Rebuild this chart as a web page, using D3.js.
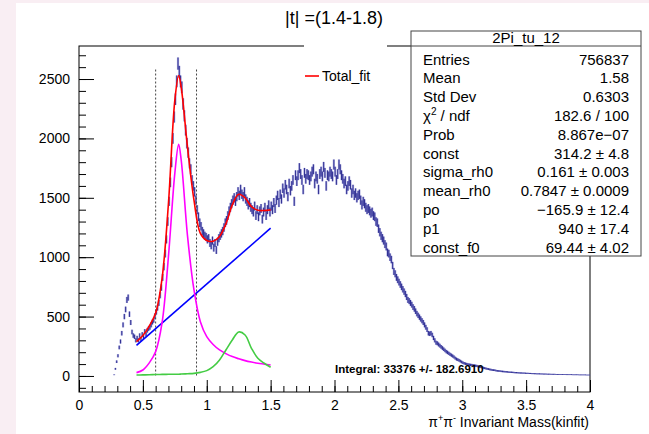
<!DOCTYPE html>
<html>
<head>
<meta charset="utf-8">
<script src="https://cdn.jsdelivr.net/npm/d3@7"></script>
<style>
body { margin: 0; background: #f9eef3; }
svg { display: block; font-family: "Liberation Sans", Arial, sans-serif; }
</style>
</head>
<body>
<script>
// histogram: 0.01 wide bins, first bin edge at 0.27
let binStart = 0.27, binWidth = 0.01;
let counts = [
  10, 60, 120, 170, 240, 290, 360, 430, 500, 560,                 // 0.27
  640, 660, 520, 450, 370, 340, 330, 300, 320, 300,               // 0.37
  340, 310, 350, 330, 375, 350, 385, 400, 410, 430,               // 0.47
  455, 470, 505, 540, 575, 615, 680, 745, 830, 920,               // 0.57
  1030, 1150, 1300, 1470, 1630, 1800, 2000, 2180, 2330, 2480,     // 0.67
  2630, 2560, 2480, 2430, 2290, 2190, 2070, 1960, 1880, 1790,     // 0.77
  1740, 1650, 1600, 1550, 1480, 1400, 1340, 1290, 1260, 1220,     // 0.87
  1200, 1180, 1170, 1150, 1160, 1120, 1100, 1140, 1080, 1120,     // 0.97
  1060, 1130, 1160, 1180, 1200, 1220, 1250, 1290, 1310, 1350,     // 1.07
  1390, 1420, 1450, 1480, 1500, 1470, 1510, 1550, 1520, 1570,     // 1.17
  1530, 1510, 1550, 1490, 1470, 1440, 1460, 1420, 1400, 1380,     // 1.27
  1430, 1350, 1400, 1340, 1390, 1410, 1320, 1380, 1420, 1350,     // 1.37
  1400, 1440, 1380, 1430, 1400, 1460, 1410, 1480, 1520, 1460,     // 1.47
  1530, 1490, 1580, 1540, 1610, 1570, 1510, 1620, 1560, 1600,     // 1.57
  1650, 1470, 1690, 1640, 1690, 1750, 1700, 1650, 1570, 1710,     // 1.67
  1660, 1700, 1690, 1650, 1680, 1720, 1740, 1620, 1680, 1660,     // 1.77
  1570, 1700, 1720, 1680, 1760, 1710, 1600, 1690, 1680, 1720,     // 1.87
  1700, 1680, 1780, 1720, 1650, 1700, 1780, 1740, 1690, 1660,     // 1.97
  1620, 1640, 1570, 1600, 1640, 1610, 1540, 1570, 1520, 1540,     // 2.07
  1500, 1520, 1530, 1480, 1440, 1470, 1450, 1420, 1400, 1410,     // 2.17
  1390, 1370, 1380, 1350, 1340, 1300, 1290, 1240, 1210, 1180,     // 2.27
  1160, 1140, 1110, 1090, 1040, 1030, 1000, 980, 930, 880,        // 2.37
  860, 830, 810, 790, 770, 750, 730, 710, 690, 665,               // 2.47
  640, 630, 615, 600, 580, 565, 545, 525, 510, 495,               // 2.57
  480, 465, 450, 430, 410, 390, 360, 355, 360, 345,               // 2.67
  320, 300, 280, 275, 265, 255, 245, 235, 225, 215,               // 2.77
  205, 198, 190, 182, 175, 168, 160, 150, 142, 137,               // 2.87
  132, 125, 118, 112, 107, 103, 100, 97, 95, 93,                  // 2.97
  92, 90, 88, 86, 84, 81, 78, 75, 72, 69,                         // 3.07
  66, 63, 60, 58, 55, 53, 50, 49, 48, 45,                         // 3.17
  43, 42, 41, 39, 38, 37, 36, 35, 34, 32,                         // 3.27
  31, 31, 30, 29, 28, 28, 27, 26, 25, 25,                         // 3.37
  24, 24, 23, 22, 22, 21, 21, 20, 20, 19,                         // 3.47
  19, 18, 18, 18, 17, 17, 16, 16, 16, 15,                         // 3.57
  15, 15, 14, 14, 14, 14, 13, 13, 13, 13,                         // 3.67
  12, 12, 12, 12, 11, 11, 11, 11, 11, 10,                         // 3.77
  10, 10, 10, 10, 9, 9, 9, 9, 9, 9,                               // 3.87
  8, 8, 8                                                         // 3.97
];

// fit curves
let fitX = [0.45, 0.5, 0.55, 0.6, 0.65, 0.7, 0.75, 0.78, 0.8, 0.85, 0.9, 0.95, 1.0, 1.05, 1.1, 1.15, 1.2, 1.25, 1.3, 1.35, 1.4, 1.45, 1.5];
let totalFit = [290, 340, 420, 530, 820, 1450, 2320, 2530, 2430, 1920, 1480, 1200, 1140, 1135, 1175, 1280, 1440, 1530, 1500, 1425, 1395, 1393, 1398];
let rhoFit = [28, 50, 110, 205, 446, 1004, 1706, 1950, 1818, 1173, 724, 457, 331, 265, 219, 188, 163, 145, 129, 117, 107, 100, 93];
let f0Fit = [8, 9, 10, 12, 13, 14, 15, 15, 16, 19, 22, 30, 45, 78, 135, 219, 303, 370, 345, 233, 149, 107, 73];
let bkgX = [0.45, 1.5];
let bkgFit = [257, 1244];

let cutLines = [0.6, 0.92];
let cutTop = 2580;

let xTicks = [0, 0.5, 1, 1.5, 2, 2.5, 3, 3.5, 4];
let yTicks = [0, 500, 1000, 1500, 2000, 2500];

let statLabels = ["Entries", "Mean", "Std Dev", "chi", "Prob", "const", "sigma_rh0", "mean_rh0", "po", "p1", "const_f0"];
let statValues = ["756837", "1.58", "0.6303", "182.6 / 100", "8.867e\u221207", "314.2 \u00b1 4.8", "0.161 \u00b1 0.003",
  "0.7847 \u00b1 0.0009", "\u2212165.9 \u00b1 12.4", "940 \u00b1 17.4", "69.44 \u00b1 4.02"];

let width = 649, height = 434;
let frame = { left: 79, right: 590, top: 46, bottom: 392 };

let x = d3.scaleLinear().domain([0, 4]).range([frame.left, frame.right]);
let y = d3.scaleLinear().domain([-135, 2778]).range([frame.bottom, frame.top]);

let svg = d3.select("body").append("svg")
  .attr("width", width)
  .attr("height", height);

// canvas
svg.append("rect").attr("x", 16).attr("y", 3).attr("width", width - 16).attr("height", height - 3).attr("fill", "white");

// title
svg.append("text")
  .attr("x", 334).attr("y", 24)
  .attr("text-anchor", "middle")
  .attr("font-size", 18)
  .text("|t| =(1.4-1.8)");

// axes, ticks pointing inward like ROOT
let minorX = d3.range(0, 41).map(i => i / 10);
let minorY = d3.range(-100, 2701, 100);

svg.append("g")
  .attr("transform", `translate(0,${frame.bottom})`)
  .call(d3.axisBottom(x).tickValues(minorX).tickSizeInner(-6).tickSizeOuter(0).tickFormat(""))
  .call(g => g.select(".domain").remove());

svg.append("g")
  .attr("transform", `translate(0,${frame.bottom})`)
  .call(d3.axisBottom(x).tickValues(xTicks).tickSizeInner(-12).tickSizeOuter(0).tickPadding(8).tickFormat(d3.format("")))
  .call(g => g.select(".domain").remove())
  .call(g => g.selectAll("text").attr("font-size", 14).attr("fill", "black").attr("font-family", "Liberation Sans, Arial, sans-serif"));

svg.append("g")
  .attr("transform", `translate(${frame.left},0)`)
  .call(d3.axisLeft(y).tickValues(minorY).tickSizeInner(-7).tickSizeOuter(0).tickFormat(""))
  .call(g => g.select(".domain").remove());

svg.append("g")
  .attr("transform", `translate(${frame.left},0)`)
  .call(d3.axisLeft(y).tickValues(yTicks).tickSizeInner(-15).tickSizeOuter(0).tickPadding(9).tickFormat(d3.format("")))
  .call(g => g.select(".domain").remove())
  .call(g => g.selectAll("text").attr("font-size", 14).attr("fill", "black").attr("font-family", "Liberation Sans, Arial, sans-serif"));

// frame
svg.append("rect")
  .attr("x", frame.left).attr("y", frame.top)
  .attr("width", frame.right - frame.left).attr("height", frame.bottom - frame.top)
  .attr("fill", "none").attr("stroke", "black").attr("stroke-width", 1);

// histogram points with error boxes
let bins = counts.map((c, i) => ({ m: binStart + (i + 0.5) * binWidth, c: c, e: Math.sqrt(c) }));

svg.append("g")
  .selectAll("rect")
  .data(bins)
  .join("rect")
  .attr("x", d => x(d.m) - 1.1)
  .attr("y", d => y(d.c + d.e))
  .attr("width", 2.2)
  .attr("height", d => y(d.c - d.e) - y(d.c + d.e))
  .attr("fill", "#7474cc")
  .attr("opacity", 0.6);

svg.append("g")
  .selectAll("line")
  .data(bins)
  .join("line")
  .attr("x1", d => x(d.m)).attr("x2", d => x(d.m))
  .attr("y1", d => y(d.c + d.e))
  .attr("y2", d => y(d.c - d.e))
  .attr("stroke", "#22228a")
  .attr("stroke-width", 0.9);

// cut lines
svg.append("g")
  .selectAll("line")
  .data(cutLines)
  .join("line")
  .attr("x1", d => x(d)).attr("x2", d => x(d))
  .attr("y1", y(cutTop)).attr("y2", y(0))
  .attr("stroke", "#444")
  .attr("stroke-dasharray", "2,2");

// fit curves
let line = d3.line().x(d => x(d[0])).y(d => y(d[1])).curve(d3.curveCatmullRom);
let curves = [
  { xs: bkgX, ys: bkgFit, color: "#0000ff" },
  { xs: fitX, ys: rhoFit, color: "#ff00ff" },
  { xs: fitX, ys: f0Fit, color: "#44cc44" },
  { xs: fitX, ys: totalFit, color: "#ff0000" }
];
svg.append("g")
  .selectAll("path")
  .data(curves)
  .join("path")
  .attr("d", d => line(d.xs.map((v, i) => [v, d.ys[i]])))
  .attr("fill", "none")
  .attr("stroke", d => d.color)
  .attr("stroke-width", 1.6);

// integral text
svg.append("text")
  .attr("x", 335).attr("y", 373)
  .attr("font-size", 11.5)
  .attr("font-weight", "bold")
  .text("Integral: 33376 +/- 182.6910");

// legend (white box hides the frame top)
svg.append("rect").attr("x", 304).attr("y", 40).attr("width", 83).attr("height", 60).attr("fill", "white");
svg.append("line").attr("x1", 305).attr("x2", 319).attr("y1", 76).attr("y2", 76).attr("stroke", "#ff0000").attr("stroke-width", 1.6);
svg.append("text").attr("x", 322).attr("y", 81).attr("font-size", 14).text("Total_fit");

// stats box
let sx0 = 411, sx1 = 641, sy0 = 31, sy1 = 256;
svg.append("rect")
  .attr("x", sx0).attr("y", sy0).attr("width", sx1 - sx0).attr("height", sy1 - sy0)
  .attr("fill", "white").attr("stroke", "#444");
svg.append("line").attr("x1", sx0).attr("x2", sx1).attr("y1", 46).attr("y2", 46).attr("stroke", "#444");
svg.append("text")
  .attr("x", (sx0 + sx1) / 2).attr("y", 43)
  .attr("text-anchor", "middle").attr("font-size", 15)
  .text("2Pi_tu_12");

let rows = svg.append("g").selectAll("g")
  .data(statLabels.map((l, i) => ({ label: l, value: statValues[i], i: i })))
  .join("g")
  .attr("transform", d => `translate(0,${64.5 + d.i * 18.8})`);

rows.append("text")
  .attr("x", 423).attr("font-size", 15)
  .each(function (d) {
    let t = d3.select(this);
    if (d.label === "chi") {
      t.append("tspan").text("\u03c7");
      t.append("tspan").attr("font-size", 10).attr("dy", -6).text("2");
      t.append("tspan").attr("dy", 6).text(" / ndf");
    } else {
      t.text(d.label);
    }
  });

rows.append("text")
  .attr("x", 629).attr("font-size", 15)
  .attr("text-anchor", "end")
  .text(d => d.value);

// x axis title
let xt = svg.append("text")
  .attr("x", 589).attr("y", 427)
  .attr("text-anchor", "end")
  .attr("font-size", 14);
xt.append("tspan").text("\u03c0");
xt.append("tspan").attr("font-size", 9).attr("dy", -6).text("+");
xt.append("tspan").attr("dy", 6).text("\u03c0");
xt.append("tspan").attr("font-size", 9).attr("dy", -6).text("-");
xt.append("tspan").attr("dy", 6).text(" Invariant Mass(kinfit)");
</script>
</body>
</html>
